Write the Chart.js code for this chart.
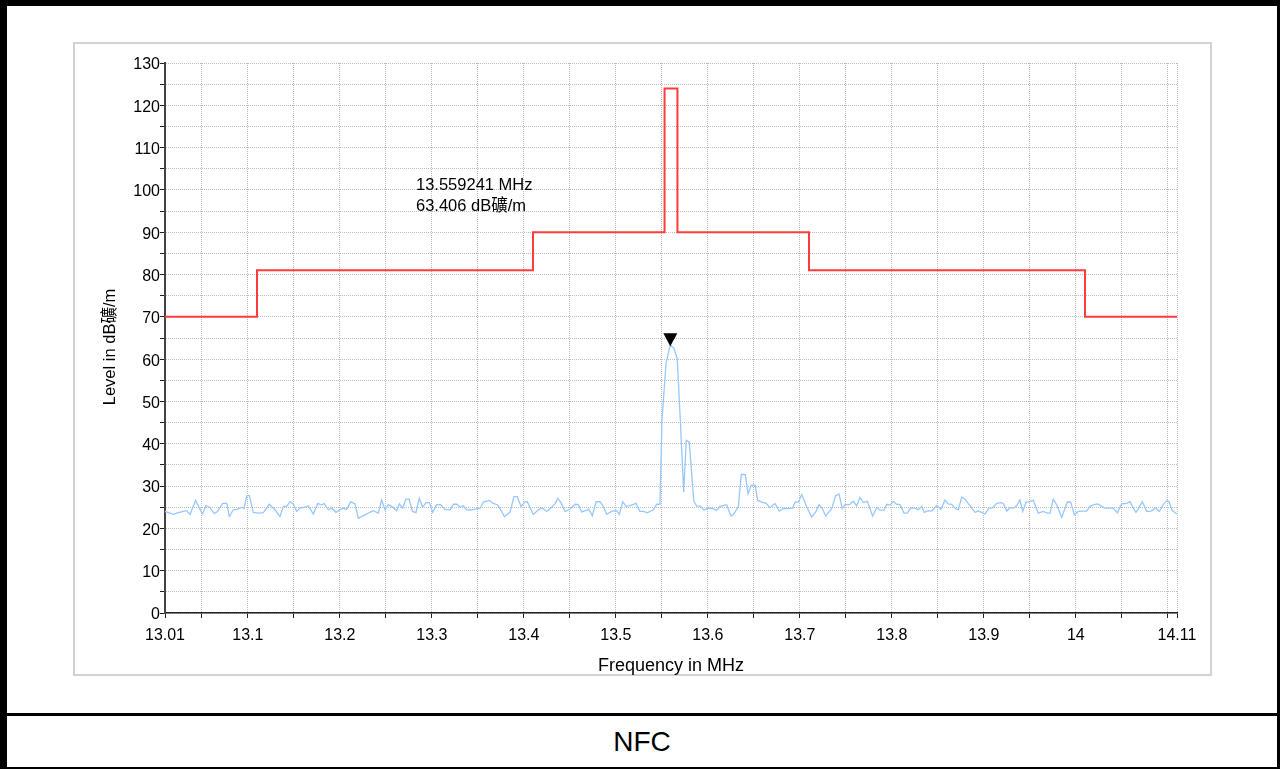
<!DOCTYPE html>
<html>
<head>
<meta charset="utf-8">
<script src="https://cdn.jsdelivr.net/npm/chart.js@4"></script>
<style>
  html, body { margin: 0; padding: 0; background: #fff; }
  body { width: 1280px; height: 769px; position: relative; overflow: hidden; font-family: "Liberation Sans", Arial, "Noto Sans CJK SC", sans-serif; }
  #frame { position: absolute; left: 0; top: 0; width: 1270px; height: 761px; border-style: solid; border-color: #000; border-width: 6px 3px 2px 7px; }
  #sep { position: absolute; left: 0; top: 713px; width: 1280px; height: 3px; background: #000; }
  #panel { position: absolute; left: 73px; top: 42px; width: 1135px; height: 630px; border: 2px solid #d2d2d2; background: #fff; }
  #chart { position: absolute; left: 74px; top: 43px; }
  #caption { position: absolute; left: 7px; width: 1270px; top: 716px; height: 51px; line-height: 51px; text-align: center; font-size: 28px; color: #000; }
</style>
</head>
<body>
<div id="frame"></div>
<div id="sep"></div>
<div id="panel"></div>
<canvas id="chart" width="1137" height="632"></canvas>
<div id="caption">NFC</div>
<script>
// ---- Data ----
const limitFreq  = [13.01, 13.11, 13.41, 13.553, 13.567, 13.71, 14.01, 14.11];
const limitLevel = [70, 81, 90, 124, 90, 81, 70, 70];

const noiseFreq = [
 13.0100,13.0154,13.0190,13.0245,13.0300,13.0336,13.0372,13.0433,13.0506,13.0546,
 13.0589,13.0636,13.0669,13.0727,13.0771,13.0799,13.0843,13.0886,13.0934,13.0959,
 13.0988,13.1016,13.1060,13.1114,13.1169,13.1234,13.1296,13.1350,13.1386,13.1422,
 13.1459,13.1495,13.1531,13.1567,13.1622,13.1658,13.1712,13.1760,13.1803,13.1828,
 13.1875,13.1912,13.1959,13.2002,13.2038,13.2075,13.2118,13.2165,13.2201,13.2256,
 13.2310,13.2364,13.2418,13.2455,13.2491,13.2527,13.2564,13.2618,13.2647,13.2683,
 13.2719,13.2753,13.2790,13.2828,13.2864,13.2901,13.2937,13.2973,13.3010,13.3053,
 13.3097,13.3143,13.3198,13.3234,13.3271,13.3307,13.3342,13.3379,13.3434,13.3488,
 13.3524,13.3560,13.3625,13.3668,13.3712,13.3749,13.3788,13.3850,13.3893,13.3929,
 13.3970,13.4013,13.4038,13.4103,13.4158,13.4201,13.4249,13.4303,13.4339,13.4368,
 13.4401,13.4448,13.4495,13.4557,13.4592,13.4629,13.4673,13.4709,13.4745,13.4785,
 13.4828,13.4864,13.4901,13.4955,13.5010,13.5038,13.5075,13.5111,13.5154,13.5220,
 13.5263,13.5299,13.5342,13.5408,13.5445,13.5473,13.5480,13.5502,13.5546,13.5592,
 13.5633,13.5668,13.5701,13.5738,13.5766,13.5799,13.5847,13.5879,13.5923,13.5959,
 13.5999,13.6042,13.6097,13.6133,13.6205,13.6252,13.6285,13.6332,13.6364,13.6408,
 13.6437,13.6473,13.6516,13.6542,13.6586,13.6633,13.6676,13.6730,13.6777,13.6821,
 13.6875,13.6923,13.6948,13.6984,13.7021,13.7075,13.7129,13.7173,13.7209,13.7245,
 13.7282,13.7347,13.7390,13.7426,13.7462,13.7491,13.7538,13.7582,13.7618,13.7654,
 13.7690,13.7734,13.7792,13.7836,13.7872,13.7915,13.7945,13.7980,13.8016,13.8053,
 13.8089,13.8133,13.8168,13.8205,13.8252,13.8288,13.8325,13.8353,13.8397,13.8434,
 13.8488,13.8535,13.8578,13.8614,13.8651,13.8695,13.8723,13.8760,13.8796,13.8850,
 13.8904,13.8940,13.8977,13.9013,13.9057,13.9092,13.9140,13.9187,13.9212,13.9249,
 13.9285,13.9328,13.9358,13.9393,13.9423,13.9459,13.9502,13.9538,13.9592,13.9647,
 13.9690,13.9720,13.9755,13.9792,13.9847,13.9908,13.9945,13.9984,14.0027,14.0064,
 14.0118,14.0154,14.0201,14.0238,14.0282,14.0317,14.0361,14.0408,14.0451,14.0499,
 14.0553,14.0589,14.0625,14.0654,14.0687,14.0723,14.0771,14.0817,14.0868,14.0908,
 14.0951,14.0988,14.1013,14.1049,14.1100
];
const noiseLevel = [
 24.0,23.6,23.3,23.7,24.0,24.2,23.3,26.6,23.4,25.4,
 24.9,23.5,24.0,25.9,25.9,22.8,24.4,24.5,25.0,24.7,
 27.7,27.8,23.8,23.6,23.7,25.7,24.4,22.8,25.2,25.2,
 26.3,25.8,24.0,24.8,25.0,25.3,23.4,25.9,25.5,25.9,
 24.4,24.8,23.8,24.4,24.8,24.5,26.3,25.8,22.4,23.0,
 23.6,24.2,23.6,26.7,24.4,25.6,25.2,24.2,25.8,24.8,
 26.9,26.9,24.0,23.7,27.1,25.0,26.1,26.1,23.8,25.6,
 25.6,24.5,24.4,25.7,25.7,25.0,25.4,24.3,24.4,24.6,
 24.7,26.2,26.6,25.9,25.6,24.4,22.8,23.8,27.5,27.5,
 25.2,26.3,26.3,23.3,24.4,24.8,24.0,25.0,25.8,27.1,
 26.2,24.0,24.4,25.7,25.6,23.9,24.2,24.5,23.0,26.3,
 26.3,25.2,23.3,24.0,24.2,23.3,26.3,25.2,25.4,25.9,
 24.0,24.0,23.7,24.4,25.7,25.7,25.9,45.6,59.0,63.4,
 62.5,60.1,45.6,28.6,40.8,40.4,26.6,25.3,25.2,24.3,
 24.8,24.7,24.3,25.2,25.6,22.9,23.5,25.1,32.8,32.7,
 28.2,30.2,30.2,26.6,26.2,25.9,24.9,25.9,24.1,24.7,
 24.7,24.8,26.2,26.2,28.0,25.1,22.7,23.9,25.6,24.7,
 22.9,24.7,27.8,28.1,24.7,25.6,25.6,26.4,25.3,27.3,
 26.1,26.4,22.9,24.9,24.3,24.3,25.7,25.5,26.4,25.7,
 25.6,23.6,23.6,24.8,24.8,24.4,25.2,23.8,24.2,24.1,
 25.4,24.5,26.7,25.8,25.7,24.6,24.4,27.4,26.9,25.3,
 23.8,24.1,23.8,23.4,24.8,24.8,25.9,26.1,25.9,24.1,
 24.9,24.8,25.4,26.7,24.0,26.2,26.3,26.6,23.6,24.0,
 23.6,23.6,26.9,25.6,22.6,26.3,26.2,23.2,24.0,24.1,
 24.1,25.2,25.6,25.8,25.2,24.8,24.8,24.8,23.7,25.8,
 25.9,26.3,24.8,23.8,24.9,26.3,24.0,24.1,24.8,24.0,
 25.6,26.6,26.3,24.2,23.4
];

const markerFreq = 13.559241;
const markerLevel = 63.406;
const annotationLines = ['13.559241 MHz', '63.406 dB礦/m'];

const xTickValues = [13.01,13.05,13.1,13.15,13.2,13.25,13.3,13.35,13.4,13.45,13.5,13.55,13.6,13.65,13.7,13.75,13.8,13.85,13.9,13.95,14,14.05,14.1,14.11];
const xTickLabels = ['13.01','','13.1','','13.2','','13.3','','13.4','','13.5','','13.6','','13.7','','13.8','','13.9','','14','','','14.11'];
const yTickValues = [0,5,10,15,20,25,30,35,40,45,50,55,60,65,70,75,80,85,90,95,100,105,110,115,120,125,130];
const yTickLabels = ['0','','10','','20','','30','','40','','50','','60','','70','','80','','90','','100','','110','','120','','130'];

const xTitle = 'Frequency in MHz';
const yTitle = 'Level in dB礦/m';

// ---- Chart ----
const FONT = '"Liberation Sans", Arial, "Noto Sans CJK SC", sans-serif';

const markerPlugin = {
  id: 'marker',
  afterDatasetsDraw(chart) {
    const ctx = chart.ctx;
    const xs = chart.scales.x, ys = chart.scales.y;
    const px = xs.getPixelForValue(markerFreq);
    const py = ys.getPixelForValue(markerLevel);
    ctx.save();
    ctx.fillStyle = '#000';
    ctx.beginPath();
    ctx.moveTo(px - 7, py - 11.5);
    ctx.lineTo(px + 7, py - 11.5);
    ctx.lineTo(px, py + 1.5);
    ctx.closePath();
    ctx.fill();
    // annotation text
    const ca = chart.chartArea;
    ctx.font = '16.5px ' + FONT;
    ctx.fillStyle = '#000';
    ctx.textBaseline = 'alphabetic';
    ctx.textAlign = 'left';
    annotationLines.forEach((t, i) => {
      ctx.fillText(t, ca.left + 251, ca.top + 127 + i * 21);
    });
    // y axis title
    ctx.translate(36, ca.top + (ca.bottom - ca.top) / 2 + 9);
    ctx.rotate(-Math.PI / 2);
    ctx.font = '16.5px ' + FONT;
    ctx.textAlign = 'center';
    ctx.textBaseline = 'middle';
    ctx.fillText(yTitle, 0, 0);
    ctx.restore();
  }
};

new Chart(document.getElementById('chart'), {
  type: 'line',
  data: {
    datasets: [
      {
        label: 'Noise',
        data: noiseFreq.map((f, i) => ({ x: f, y: noiseLevel[i] })),
        borderColor: 'rgb(150,200,255)',
        borderWidth: 1.3,
        pointRadius: 0,
        tension: 0,
        fill: false
      },
      {
        label: 'Limit',
        data: limitFreq.map((f, i) => ({ x: f, y: limitLevel[i] })),
        borderColor: 'rgb(255,60,60)',
        borderWidth: 2,
        pointRadius: 0,
        stepped: 'before',
        fill: false
      }
    ]
  },
  options: {
    responsive: false,
    devicePixelRatio: 1,
    animation: false,
    layout: { padding: { top: 20, right: 34, left: 0, bottom: 0 } },
    plugins: { legend: { display: false }, tooltip: { enabled: false } },
    scales: {
      x: {
        type: 'linear',
        min: 13.01,
        max: 14.11,
        afterBuildTicks: (scale) => { scale.ticks = xTickValues.map(v => ({ value: v })); },
        afterFit: (scale) => { scale.height = 62; },
        ticks: {
          autoSkip: false,
          maxRotation: 0,
          padding: 8,
          color: '#000',
          font: { family: FONT, size: 16 },
          callback: (v, i) => xTickLabels[i]
        },
        grid: { color: '#bdbdbd', lineWidth: 1, drawTicks: true, tickLength: 5, tickColor: '#222', tickWidth: 1 },
        border: { display: true, color: '#222', width: 1.5, dash: [1, 1] },
        title: { display: true, text: xTitle, color: '#000', font: { family: FONT, size: 18 }, padding: { top: 0, bottom: -2 } }
      },
      y: {
        type: 'linear',
        min: 0,
        max: 130,
        afterBuildTicks: (scale) => { scale.ticks = yTickValues.map(v => ({ value: v })); },
        afterFit: (scale) => { scale.width = 91; },
        ticks: {
          autoSkip: false,
          padding: 0,
          labelOffset: 2,
          color: '#000',
          font: { family: FONT, size: 16 },
          callback: (v, i) => yTickLabels[i]
        },
        grid: { color: '#bdbdbd', lineWidth: 1, drawTicks: true, tickLength: 5, tickColor: '#222', tickWidth: 1 },
        border: { display: true, color: '#444', width: 2, dash: [1, 1] },
        title: { display: false }
      }
    }
  },
  plugins: [markerPlugin]
});
</script>
</body>
</html>
